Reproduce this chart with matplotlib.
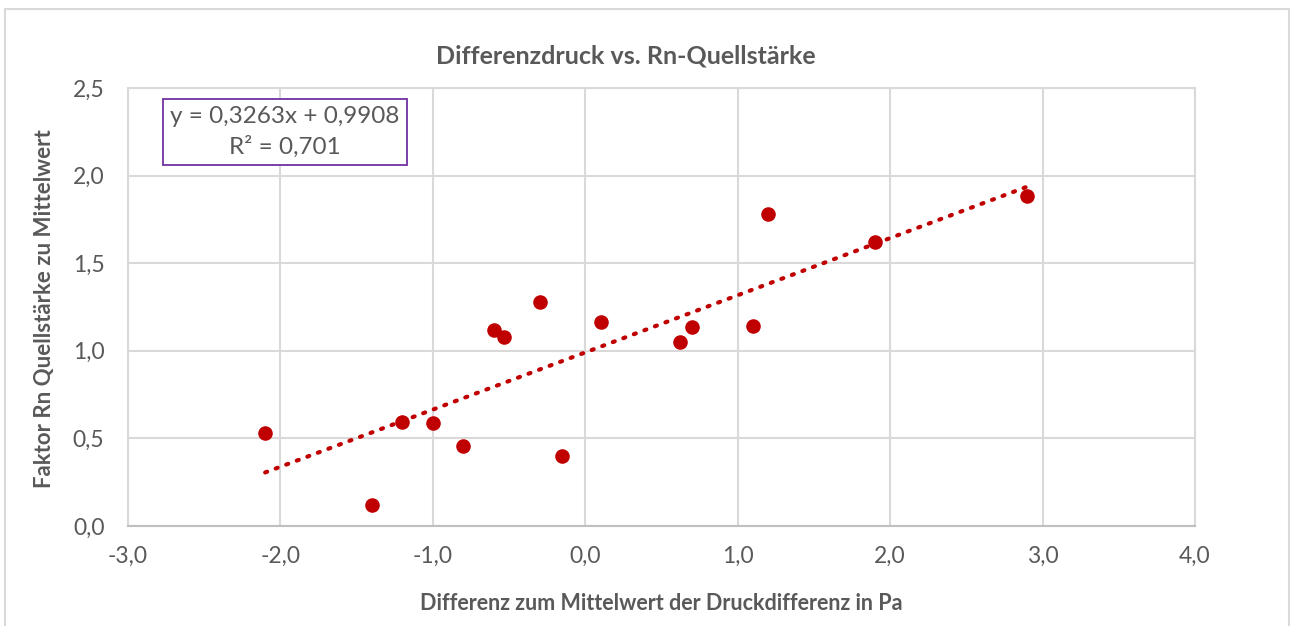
import numpy as np
import matplotlib
matplotlib.use("Agg")
import matplotlib.pyplot as plt
from matplotlib.patches import Rectangle

plt.rcParams['font.family'] = ['Lato', 'DejaVu Sans']

# Data
x_vals = [-2.10, -1.40, -1.20, -1.00, -0.80, -0.60, -0.53, -0.30, -0.15,
          0.10, 0.62, 0.70, 1.10, 1.20, 1.90, 2.90]
y_vals = [0.533, 0.120, 0.596, 0.590, 0.454, 1.117, 1.077, 1.276, 0.397,
          1.167, 1.053, 1.133, 1.139, 1.779, 1.620, 1.885]
slope = 0.3263
intercept = 0.9908
eq_label = "y = 0,3263x + 0,9908\nR² = 0,701"
x_ticks = [-3, -2, -1, 0, 1, 2, 3, 4]
y_ticks = [0.0, 0.5, 1.0, 1.5, 2.0, 2.5]
title = "Differenzdruck vs. Rn-Quellstärke"
xlabel = "Differenz zum Mittelwert der Druckdifferenz in Pa"
ylabel = "Faktor Rn Quellstärke zu Mittelwert"

txt = "#595959"
red = "#C00000"
grid = "#D9D9D9"

fig = plt.figure(figsize=(12.9, 6.26), dpi=100)
# chart area border
fig.patches.append(Rectangle((5/1290, -0.05), (1289-5)/1290, (626-9)/626 + 0.05,
                             transform=fig.transFigure, fill=False,
                             edgecolor="#D9D9D9", linewidth=1.5))

ax = fig.add_axes([128/1290, 1-526/626, (1195-128)/1290, (526-88)/626])
ax.set_xlim(-3, 4)
ax.set_ylim(0, 2.5)
ax.set_xticks(x_ticks)
ax.set_yticks(y_ticks)
ax.set_xticklabels([f"{v:.1f}".replace(".", ",") for v in x_ticks])
ax.set_yticklabels([f"{v:.1f}".replace(".", ",") for v in y_ticks])
ax.grid(True, color=grid, linewidth=1.5)
ax.set_axisbelow(True)
for s in ax.spines.values():
    s.set_color(grid)
    s.set_linewidth(1.5)
ax.spines['bottom'].set_color("#BFBFBF")
ax.tick_params(length=0, colors=txt, labelsize=16.5)
ax.tick_params(axis='x', pad=14)
ax.tick_params(axis='y', pad=17)

xa = np.array(x_vals)
xt = np.array([xa.min(), xa.max()])
ax.plot(xt, slope * xt + intercept, color=red, linestyle=(0, (0.5, 2.2)),
        linewidth=3, dash_capstyle='round', zorder=2)
ax.scatter(x_vals, y_vals, s=110, color=red, zorder=3, linewidths=0)

ax.text(0.147, 0.900, eq_label, transform=ax.transAxes, ha='center', va='center',
        fontsize=17.5, color=txt, linespacing=1.45, zorder=5,
        bbox=dict(boxstyle='square,pad=0.3', facecolor='white',
                  edgecolor='#7030A0', linewidth=1.3))

fig.text(626/1290, 1-56/626, title, ha='center', va='center', fontsize=18,
         fontweight='bold', color=txt)
fig.text(661/1290, 1-604/626, xlabel, ha='center', va='center', fontsize=15.5,
         fontweight='bold', color=txt)
fig.text(45/1290, 1-309/626, ylabel, ha='center', va='center', fontsize=16,
         fontweight='bold', color=txt, rotation=90)

fig.savefig("out.png", dpi=100)
